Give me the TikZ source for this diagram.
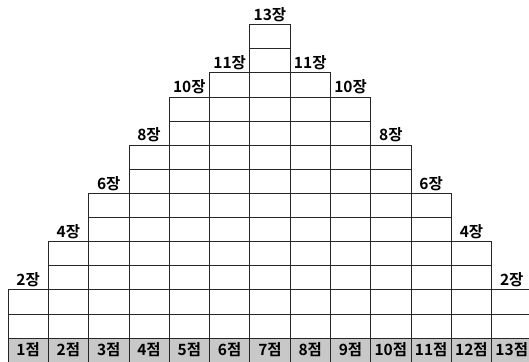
\documentclass[tikz,border=0pt]{standalone}
\usepackage{fontspec}
\setmainfont{Noto Sans CJK KR}[BoldFont={Noto Sans CJK KR Bold}]
\usepackage{tikz}
\definecolor{scoregray}{RGB}{200,200,200}
\tikzstyle{cell}=[draw=black!85,line width=0.8pt,minimum width=40.3pt,minimum height=24.1pt,inner sep=0pt,outer sep=0pt]
\tikzstyle{score}=[cell,fill=scoregray,font=\bfseries\fontsize{15.5}{15.5}\selectfont]
\tikzstyle{cnt}=[inner sep=0pt,font=\bfseries\fontsize{15.5}{15.5}\selectfont]

\begin{document}
\begin{tikzpicture}[x=1pt,y=1pt]
    \useasboundingbox (0,0) rectangle (529,361);
    \foreach \i/\h in {1/2,2/4,3/6,4/8,5/10,6/11,7/13,8/11,9/10,10/8,11/6,12/4,13/2}{
      \node[score] (s\i) at ({8+40.3*(\i-0.5)},10.95) {\i{}점};
      \foreach \j in {1,...,\h}
        \node[cell] (c\i-\j) at ({8+40.3*(\i-0.5)},{23+24.1*(\j-0.5)}) {};
      \node[cnt] (n\i) at ({8+40.3*(\i-0.5)},{23+24.1*(\h+0.5)-2}) {\h{}장};
    }
\end{tikzpicture}
\end{document}
